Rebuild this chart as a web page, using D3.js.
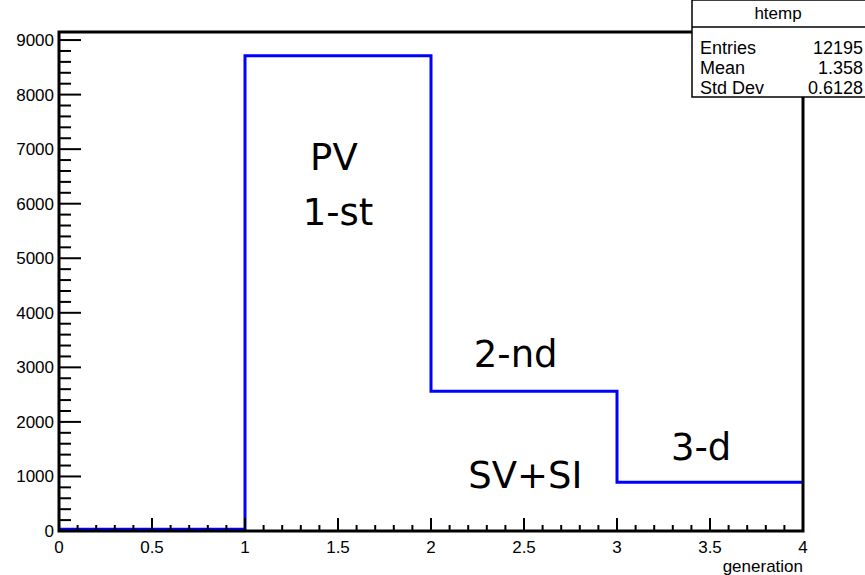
<!DOCTYPE html>
<html>
<head>
<meta charset="utf-8">
<script src="https://cdn.jsdelivr.net/npm/d3@7"></script>
<style>
  body { margin: 0; background: #fff; }
  svg { display: block; }
  text { font-family: "Liberation Sans", Arial, sans-serif; fill: #000; }
  .note { font-family: "DejaVu Sans", sans-serif; font-size: 37px; }
</style>
</head>
<body>
<svg width="865" height="575"></svg>
<script>
// bin edges and contents of htemp (generation)
var binEdges = [0, 1, 2, 3, 4];
var counts = [30, 8712, 2560, 893];

var yTicks = [0, 1000, 2000, 3000, 4000, 5000, 6000, 7000, 8000, 9000];
var xTicks = [0, 0.5, 1, 1.5, 2, 2.5, 3, 3.5, 4];

var notes = [
  { text: 'PV',    x: 1.35, y: 6620 },
  { text: '1-st',  x: 1.31, y: 5610 },
  { text: '2-nd',  x: 2.23, y: 3000 },
  { text: '3-d',  x: 3.29, y: 1300 },
  { text: 'SV+SI', x: 2.2,  y: 790 }
];

var stats = [
  { label: 'Entries', value: '12195' },
  { label: 'Mean',    value: '1.358' },
  { label: 'Std Dev', value: '0.6128' }
];

var svg = d3.select('svg');

var x = d3.scaleLinear().domain([0, 4]).range([59, 803]);
var y = d3.scaleLinear().domain([0, d3.max(counts) * 1.05]).range([531, 32]);

// histogram outline
var pts = [];
counts.forEach(function(c, i) {
  pts.push([x(binEdges[i]), y(c)]);
  pts.push([x(binEdges[i + 1]), y(c)]);
});
svg.append('path')
  .attr('d', d3.line()(pts))
  .attr('fill', 'none')
  .attr('stroke', '#0000ff')
  .attr('stroke-width', 3);

// frame
svg.append('rect')
  .attr('x', x(0)).attr('y', y.range()[1])
  .attr('width', x(4) - x(0)).attr('height', y(0) - y.range()[1])
  .attr('fill', 'none')
  .attr('stroke', '#000')
  .attr('stroke-width', 3);

// y ticks (drawn inward)
var yMinor = d3.range(0, y.domain()[1], 200);
svg.append('g').selectAll('line')
  .data(yMinor)
  .enter().append('line')
    .attr('x1', x(0)).attr('x2', function(d) { return x(0) + (d % 1000 === 0 ? 22 : 12); })
    .attr('y1', function(d) { return y(d); }).attr('y2', function(d) { return y(d); })
    .attr('stroke', '#000').attr('stroke-width', 2);

svg.append('g').selectAll('text')
  .data(yTicks)
  .enter().append('text')
    .attr('x', x(0) - 5)
    .attr('y', function(d) { return y(d) + 6; })
    .attr('text-anchor', 'end')
    .style('font-size', '17px')
    .text(function(d) { return d; });

// x ticks (drawn inward)
var xMinor = d3.range(0, 41).map(function(i) { return i / 10; });
svg.append('g').selectAll('line')
  .data(xMinor)
  .enter().append('line')
    .attr('x1', function(d) { return x(d); }).attr('x2', function(d) { return x(d); })
    .attr('y1', y(0)).attr('y2', function(d, i) { return y(0) - (i % 5 === 0 ? 13 : 6); })
    .attr('stroke', '#000').attr('stroke-width', 2);

svg.append('g').selectAll('text')
  .data(xTicks)
  .enter().append('text')
    .attr('x', function(d) { return x(d); })
    .attr('y', y(0) + 22)
    .attr('text-anchor', 'middle')
    .style('font-size', '17px')
    .text(function(d) { return d; });

svg.append('text')
  .attr('x', x(4)).attr('y', 572)
  .attr('text-anchor', 'end')
  .style('font-size', '17px')
  .text('generation');

// annotations
svg.append('g').selectAll('text')
  .data(notes)
  .enter().append('text')
    .attr('class', 'note')
    .attr('x', function(d) { return x(d.x); })
    .attr('y', function(d) { return y(d.y); })
    .text(function(d) { return d.text; });

// stats box
var box = svg.append('g').attr('transform', 'translate(692, 0)');
box.append('rect')
  .attr('width', 180).attr('height', 97)
  .attr('fill', '#fff').attr('stroke', '#000').attr('stroke-width', 1.5);
box.append('line')
  .attr('x1', 0).attr('x2', 180).attr('y1', 27).attr('y2', 27)
  .attr('stroke', '#000').attr('stroke-width', 1.5);
box.append('text')
  .attr('x', 86).attr('y', 19)
  .attr('text-anchor', 'middle')
  .style('font-size', '17px')
  .text('htemp');
box.selectAll('text.lab')
  .data(stats)
  .enter().append('text')
    .attr('class', 'lab')
    .attr('x', 8).attr('y', function(d, i) { return 54 + i * 20; })
    .style('font-size', '18px')
    .text(function(d) { return d.label; });
box.selectAll('text.val')
  .data(stats)
  .enter().append('text')
    .attr('class', 'val')
    .attr('x', 171).attr('y', function(d, i) { return 54 + i * 20; })
    .attr('text-anchor', 'end')
    .style('font-size', '18px')
    .text(function(d) { return d.value; });
</script>
</body>
</html>
